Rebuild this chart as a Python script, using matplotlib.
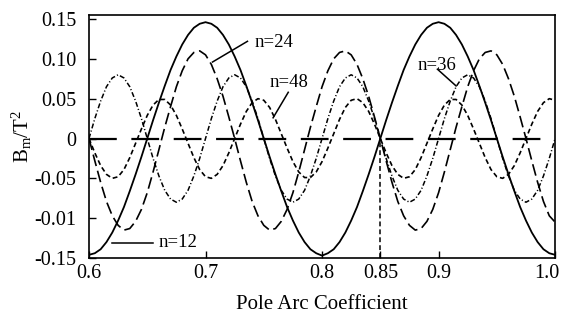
import numpy as np
import matplotlib
matplotlib.use("Agg")
import matplotlib.pyplot as plt
import matplotlib.transforms as mtransforms


####################
# DATA
####################
# pole arc coefficient, sampled every 0.005
alpha = np.linspace(0.6, 1.0, 81)

# n=12 harmonic (solid)
bm_12 = [
    -0.146, -0.144, -0.139, -0.130, -0.118, -0.103, -0.086, -0.066, -0.045, -0.023,
    0.000, 0.023, 0.045, 0.066, 0.086, 0.103, 0.118, 0.130, 0.139, 0.144,
    0.146, 0.144, 0.139, 0.130, 0.118, 0.103, 0.086, 0.066, 0.045, 0.023,
    0.000, -0.023, -0.045, -0.066, -0.086, -0.103, -0.118, -0.130, -0.139, -0.144,
    -0.147, -0.144, -0.139, -0.130, -0.118, -0.103, -0.086, -0.066, -0.045, -0.023,
    0.000, 0.023, 0.045, 0.066, 0.086, 0.103, 0.118, 0.130, 0.139, 0.144,
    0.146, 0.144, 0.139, 0.130, 0.118, 0.103, 0.086, 0.066, 0.045, 0.023,
    0.000, -0.023, -0.045, -0.066, -0.086, -0.103, -0.118, -0.130, -0.139, -0.144,
    -0.146,
]

# n=24 harmonic (long dash)
bm_24 = [
    0.000, -0.028, -0.055, -0.079, -0.097, -0.109, -0.115, -0.113, -0.104, -0.089,
    -0.068, -0.042, -0.014, 0.014, 0.040, 0.065, 0.085, 0.100, 0.108, 0.110,
    0.105, 0.093, 0.075, 0.053, 0.027, 0.000, -0.028, -0.055, -0.079, -0.097,
    -0.109, -0.115, -0.113, -0.104, -0.089, -0.068, -0.042, -0.014, 0.014, 0.040,
    0.065, 0.085, 0.100, 0.108, 0.110, 0.105, 0.093, 0.075, 0.053, 0.027,
    0.000, -0.028, -0.055, -0.079, -0.097, -0.109, -0.115, -0.113, -0.104, -0.089,
    -0.068, -0.042, -0.014, 0.014, 0.040, 0.065, 0.085, 0.100, 0.108, 0.110,
    0.105, 0.093, 0.075, 0.053, 0.027, 0.000, -0.028, -0.055, -0.079, -0.097,
    -0.105,
]

# n=36 harmonic (dash-dot)
bm_36 = [
    0.000, 0.025, 0.047, 0.065, 0.076, 0.080, 0.076, 0.065, 0.047, 0.025,
    0.000, -0.025, -0.047, -0.065, -0.076, -0.080, -0.076, -0.065, -0.047, -0.025,
    0.000, 0.025, 0.047, 0.065, 0.076, 0.080, 0.076, 0.065, 0.047, 0.025,
    0.000, -0.025, -0.047, -0.065, -0.076, -0.080, -0.076, -0.065, -0.047, -0.025,
    0.000, 0.025, 0.047, 0.065, 0.076, 0.080, 0.076, 0.065, 0.047, 0.025,
    0.000, -0.025, -0.047, -0.065, -0.076, -0.080, -0.076, -0.065, -0.047, -0.025,
    0.000, 0.025, 0.047, 0.065, 0.076, 0.080, 0.076, 0.065, 0.047, 0.025,
    0.000, -0.025, -0.047, -0.065, -0.076, -0.080, -0.076, -0.065, -0.047, -0.025,
    0.000,
]

# n=48 harmonic (short dash)
bm_48 = [
    0.000, -0.018, -0.034, -0.045, -0.050, -0.048, -0.039, -0.024, -0.006, 0.012,
    0.029, 0.042, 0.049, 0.049, 0.042, 0.029, 0.012, -0.006, -0.024, -0.039,
    -0.048, -0.050, -0.045, -0.034, -0.018, 0.000, 0.018, 0.034, 0.045, 0.050,
    0.048, 0.039, 0.024, 0.006, -0.012, -0.029, -0.042, -0.049, -0.049, -0.042,
    -0.029, -0.012, 0.006, 0.024, 0.039, 0.048, 0.050, 0.045, 0.034, 0.018,
    0.000, -0.018, -0.034, -0.045, -0.050, -0.048, -0.039, -0.024, -0.006, 0.012,
    0.029, 0.042, 0.049, 0.049, 0.042, 0.029, 0.012, -0.006, -0.024, -0.039,
    -0.048, -0.050, -0.045, -0.034, -0.018, 0.000, 0.018, 0.034, 0.045, 0.050,
    0.048,
]

# reference lines
zero_x = [0.6, 1.0]
zero_y = [0.0, 0.0]
mark_x = [0.85, 0.85]
mark_y = [-0.15, 0.0]

# ticks
x_ticks = [0.6, 0.7, 0.8, 0.85, 0.9, 1.0]
x_labels = ["0.6", "0.7", "0.8", "0.85", "0.9", "1.0"]
y_ticks = [0.15, 0.10, 0.05, 0.0, -0.05, -0.10, -0.15]
y_labels = ["0.15", "0.10", "0.05", "0", "-0.05", "-0.01", "-0.15"]

# labels: text, text position, pointer start, pointer end
labels = [
    ("n=24", (0.742, 0.120), (0.736, 0.122), (0.706, 0.096)),
    ("n=48", (0.755, 0.070), (0.771, 0.058), (0.758, 0.026)),
    ("n=36", (0.882, 0.092), (0.899, 0.087), (0.915, 0.066)),
    ("n=12", (0.660, -0.131), (0.655, -0.131), (0.6195, -0.131)),
]


####################
# PLOT
####################
plt.rcParams["font.family"] = ["Liberation Serif", "DejaVu Serif"]
plt.rcParams["mathtext.fontset"] = "custom"
plt.rcParams["mathtext.rm"] = "Liberation Serif"
plt.rcParams["mathtext.it"] = "Liberation Serif:italic"
plt.rcParams["lines.scale_dashes"] = False

fig = plt.figure(figsize=(5.65, 3.16), dpi=100)
ax = fig.add_axes([0.1575, 0.1835, 0.825, 0.769])

ax.plot(zero_x, zero_y, color="black", lw=1.6, dashes=(20, 10.5))
ax.plot(mark_x, mark_y, color="black", lw=1.1, dashes=(3.5, 2.2))

ax.plot(alpha, bm_12, color="black", lw=1.3)
ax.plot(alpha, bm_24, color="black", lw=1.2, dashes=(8.5, 3.5))
ax.plot(alpha, bm_36, color="black", lw=1.1, dashes=(3.6, 1.6, 0.8, 1.6))
ax.plot(alpha, bm_48, color="black", lw=1.2, dashes=(3.5, 2.2))

for text, txt_pos, p0, p1 in labels:
    ax.plot([p0[0], p1[0]], [p0[1], p1[1]], color="black", lw=1.1)
    ax.text(txt_pos[0], txt_pos[1], text, fontsize=13.5, ha="left", va="center")

ax.set_xlim(0.6, 1.0)
ax.set_ylim(-0.15, 0.155)
ax.set_xticks(x_ticks)
ax.set_xticklabels(x_labels)
ax.set_yticks(y_ticks)
ax.set_yticklabels(y_labels)
ax.tick_params(axis="both", direction="in", length=5, width=1.0, labelsize=14.5)
ax.tick_params(axis="y", pad=9)
ax.tick_params(axis="x", pad=4)

# nudge the last x label so it stays inside the figure
last = ax.get_xticklabels()[-1]
last.set_transform(last.get_transform() +
                   mtransforms.ScaledTranslation(-6 / 72, 0, fig.dpi_scale_trans))

for sp in ax.spines.values():
    sp.set_linewidth(1.2)

ax.set_xlabel("Pole Arc Coefficient", fontsize=15, labelpad=9)
ax.set_ylabel(r"$\mathrm{B_m/T^2}$", fontsize=15, labelpad=0)

fig.savefig("out.png", dpi=100)
